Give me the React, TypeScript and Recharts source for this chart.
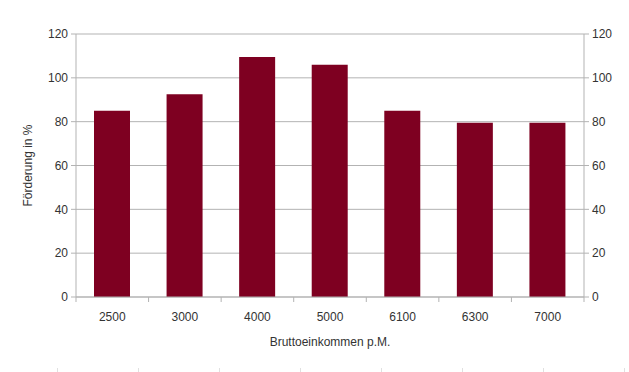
import { Bar, CartesianGrid, ComposedChart, Line, XAxis, YAxis } from "recharts";

const incomes = ["2500", "3000", "4000", "5000", "6100", "6300", "7000"];
const funding = [85, 92.5, 109.5, 106, 85, 79.5, 79.5];
const yTicks = [0, 20, 40, 60, 80, 100, 120];

const data = incomes.map((income, i) => ({ income, value: funding[i] }));

const INK = "#333";
const LINE = "#b3b3b3";
const FONT = "'Liberation Sans', Arial, sans-serif";
const TICK = { fontSize: 12, fill: INK, fontFamily: FONT };

// category label plus LibreOffice-style tick marks on the slot boundaries
function IncomeTick(props: any) {
  const { x, y, payload, index } = props;
  const half = payload?.offset || 508 / 7 / 2;
  const top = y - 15; // axis line sits at y - tickSize - tickMargin
  return (
    <g>
      <line x1={x - half} x2={x - half} y1={top} y2={top + 5} stroke={LINE} />
      {index === incomes.length - 1 && (
        <line x1={x + half} x2={x + half} y1={top} y2={top + 5} stroke={LINE} />
      )}
      <text x={x} y={y} dy="0.71em" textAnchor="middle" {...TICK}>{payload.value}</text>
    </g>
  );
}

export default function App() {
  return (
    <div style={{ position: "absolute", left: 0, top: 0, width: 629, height: 372, background: "#fff" }}>
      <ComposedChart width={629} height={372} data={data} barCategoryGap="25%"
        margin={{ top: 34, right: 0, bottom: 0, left: 0 }}>
        <CartesianGrid vertical={false} stroke={LINE} yAxisId="left" xAxisId="cat" />
        <XAxis xAxisId="cat" dataKey="income" tick={<IncomeTick />} tickLine={false}
          axisLine={{ stroke: LINE }} height={75} tickMargin={9} interval={0}
          label={{ value: "Bruttoeinkommen p.M.", position: "insideTop", offset: 40, style: { ...TICK, textAnchor: "middle" } }} />
        <YAxis yAxisId="left" domain={[0, 120]} ticks={yTicks} tick={TICK} width={76}
          axisLine={{ stroke: LINE }} tickLine={{ stroke: LINE }} tickSize={5} tickMargin={3}
          label={{ value: "Förderung in %", angle: -90, position: "insideLeft", offset: 28, style: { ...TICK, textAnchor: "middle" } }} />
        <YAxis yAxisId="right" orientation="right" domain={[0, 120]} ticks={yTicks} tick={TICK} width={45}
          axisLine={{ stroke: LINE }} tickLine={{ stroke: LINE }} tickSize={5} tickMargin={3} />
        <Bar xAxisId="cat" yAxisId="left" dataKey="value" fill="#7e0021" barSize={36}
          isAnimationActive={false} />
        <Line xAxisId="cat" yAxisId="right" dataKey="value" stroke="none" dot={false}
          activeDot={false} legendType="none" isAnimationActive={false} />
      </ComposedChart>
      <div style={{ position: "absolute", left: 57, top: 368, display: "flex" }}>
        {[0, 1, 2, 3, 4, 5, 6, 7].map((t) => (
          <div key={t} style={{ width: 81, height: 4, borderLeft: "1px solid #e0e0e0", boxSizing: "border-box" }} />
        ))}
      </div>
    </div>
  );
}
